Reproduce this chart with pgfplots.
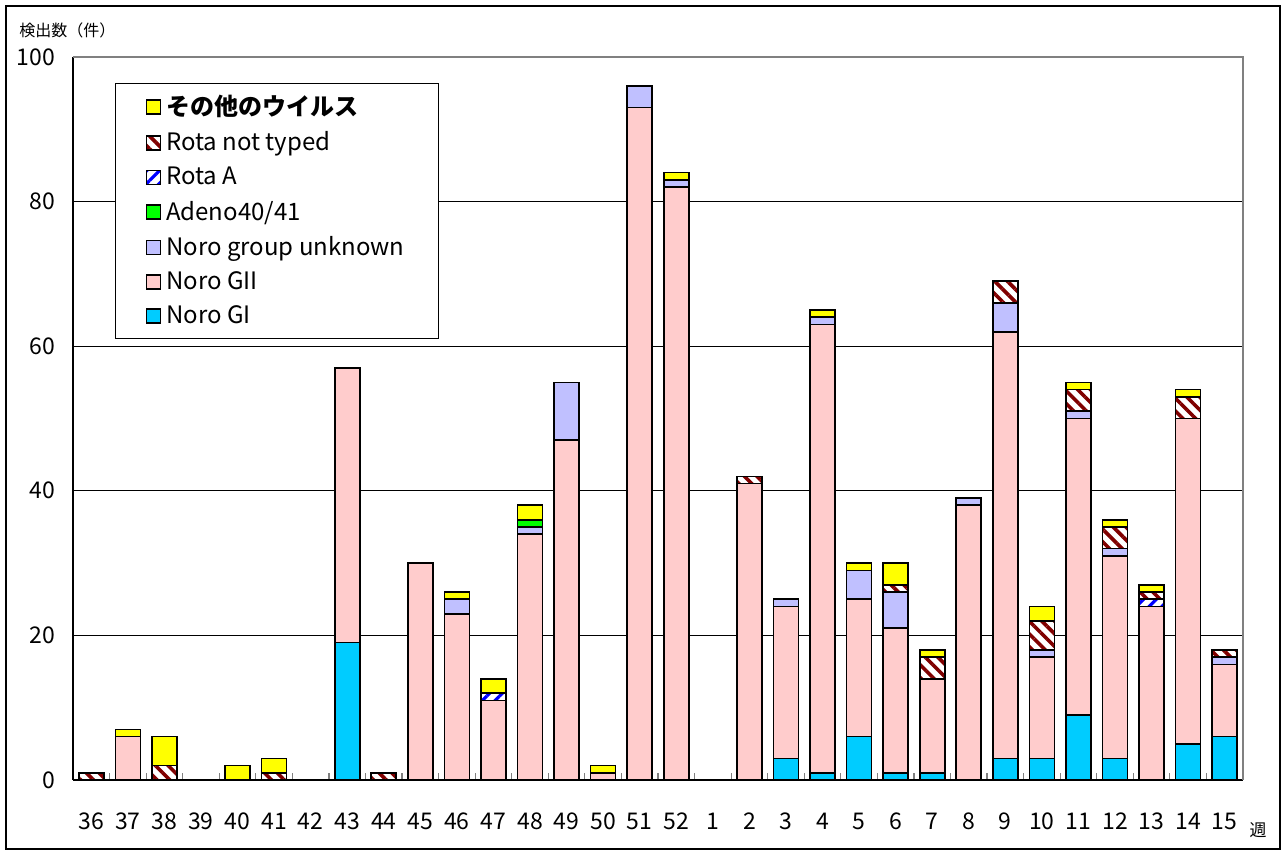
\documentclass[border=0pt]{standalone}
\usepackage{fontspec}
\setmainfont{Noto Sans CJK JP}
\usepackage{pgfplots}
\pgfplotsset{compat=1.18}
\usepackage{pgfplotstable}
\usetikzlibrary{patterns.meta}

\definecolor{cGI}{HTML}{00CCFF}
\definecolor{cGII}{HTML}{FFCCCC}
\definecolor{cUnk}{HTML}{C0C0FF}
\definecolor{cAd}{HTML}{00FF00}
\definecolor{cRA}{HTML}{0000FF}
\definecolor{cRNT}{HTML}{800000}
\definecolor{cOth}{HTML}{FFFF00}

\pgfplotstableread{
x GI GII unk ad ra rnt oth
0 0 0 0 0 0 1 0
1 0 6 0 0 0 0 1
2 0 0 0 0 0 2 4
3 0 0 0 0 0 0 0
4 0 0 0 0 0 0 2
5 0 0 0 0 0 1 2
6 0 0 0 0 0 0 0
7 19 38 0 0 0 0 0
8 0 0 0 0 0 1 0
9 0 30 0 0 0 0 0
10 0 23 2 0 0 0 1
11 0 11 0 0 1 0 2
12 0 34 1 1 0 0 2
13 0 47 8 0 0 0 0
14 0 1 0 0 0 0 1
15 0 93 3 0 0 0 0
16 0 82 1 0 0 0 1
17 0 0 0 0 0 0 0
18 0 41 0 0 0 1 0
19 3 21 1 0 0 0 0
20 1 62 1 0 0 0 1
21 6 19 4 0 0 0 1
22 1 20 5 0 0 1 3
23 1 13 0 0 0 3 1
24 0 38 1 0 0 0 0
25 3 59 4 0 0 3 0
26 3 14 1 0 0 4 2
27 9 41 1 0 0 3 1
28 3 28 1 0 0 3 1
29 0 24 0 0 1 1 1
30 5 45 0 0 0 3 1
31 6 10 1 0 0 1 0
}\data

\begin{document}
\begin{tikzpicture}
\path[use as bounding box] (-36.5pt,-36pt) rectangle (604.5pt,390pt);
\draw[line width=0.9pt] (-33.5pt,-34.5pt) rectangle (603.5pt,387pt);
\begin{axis}[
  at={(0pt,0pt)}, anchor=south west, scale only axis,
  width=585pt, height=361.5pt,
  ybar stacked, bar width=12.5pt,
  xmin=-0.5, xmax=31.5, ymin=0, ymax=100,
  xtick={0,...,31},
  xticklabels={36,37,38,39,40,41,42,43,44,45,46,47,48,49,50,51,52,1,2,3,4,5,6,7,8,9,10,11,12,13,14,15},
  minor xtick={0.5,1.5,...,30.5},
  ytick={0,20,...,100},
  ymajorgrids, grid style={black, line width=0.6pt},
  major tick length=0pt, minor tick length=3.5pt, tick align=inside,
  every minor tick/.append style={gray, line width=0.6pt},
  axis x line*=bottom, axis y line*=left,
  x axis line style={line width=0.9pt},
  y axis line style={line width=0.6pt},
  /pgf/number format/assume math mode=true,
  ticklabel style={font=\fontsize{11.5}{13}\selectfont},
  xticklabel style={anchor=base, yshift=-25pt},
  yticklabel style={anchor=east, xshift=-5.5pt},
  every axis plot/.append style={draw=black, line width=0.8pt},
  legend image code/.code={\draw[#1] (0pt,-3.5pt) rectangle (7pt,3.5pt);},
  reverse legend,
  legend cell align=left,
  legend style={at={(0.0359,0.964)}, anchor=north west, draw=black, line width=0.6pt,
    font=\fontsize{12}{13}\selectfont, row sep=2.6pt, inner xsep=15pt, inner ysep=3.8pt,
    /tikz/every odd column/.append style={column sep=0.5pt}},
  extra description/.code={
    \draw[gray, line width=0.9pt] (axis description cs:0,1) -- (axis description cs:1,1) -- (axis description cs:1,0);
  },
]
\addplot[fill=cGI] table[x=x,y=GI]{\data};
\addlegendentry{Noro GI}
\addplot[fill=cGII] table[x=x,y=GII]{\data};
\addlegendentry{Noro GII}
\addplot[fill=cUnk] table[x=x,y=unk]{\data};
\addlegendentry{Noro group unknown}
\addplot[fill=cAd] table[x=x,y=ad]{\data};
\addlegendentry{Adeno40/41}
\addplot[fill=white, postaction={pattern color=cRA, pattern={Lines[angle=45,distance=4.5pt,line width=1.6pt]}}] table[x=x,y=ra]{\data};
\addlegendentry{Rota A}
\addplot[fill=white, postaction={pattern color=cRNT, pattern={Lines[angle=-45,distance=4.5pt,line width=1.8pt]}}] table[x=x,y=rnt]{\data};
\addlegendentry{Rota not typed}
\addplot[fill=cOth] table[x=x,y=oth]{\data};
\addlegendentry{\textbf{その他のウイルス}}
\end{axis}
\node[anchor=west, font=\fontsize{8}{9}\selectfont, inner sep=0pt] at (-27pt,375pt) {検出数（件）};
\node[font=\fontsize{8.5}{9}\selectfont, inner sep=0pt] at (592.5pt,-25pt) {週};
\end{tikzpicture}
\end{document}
